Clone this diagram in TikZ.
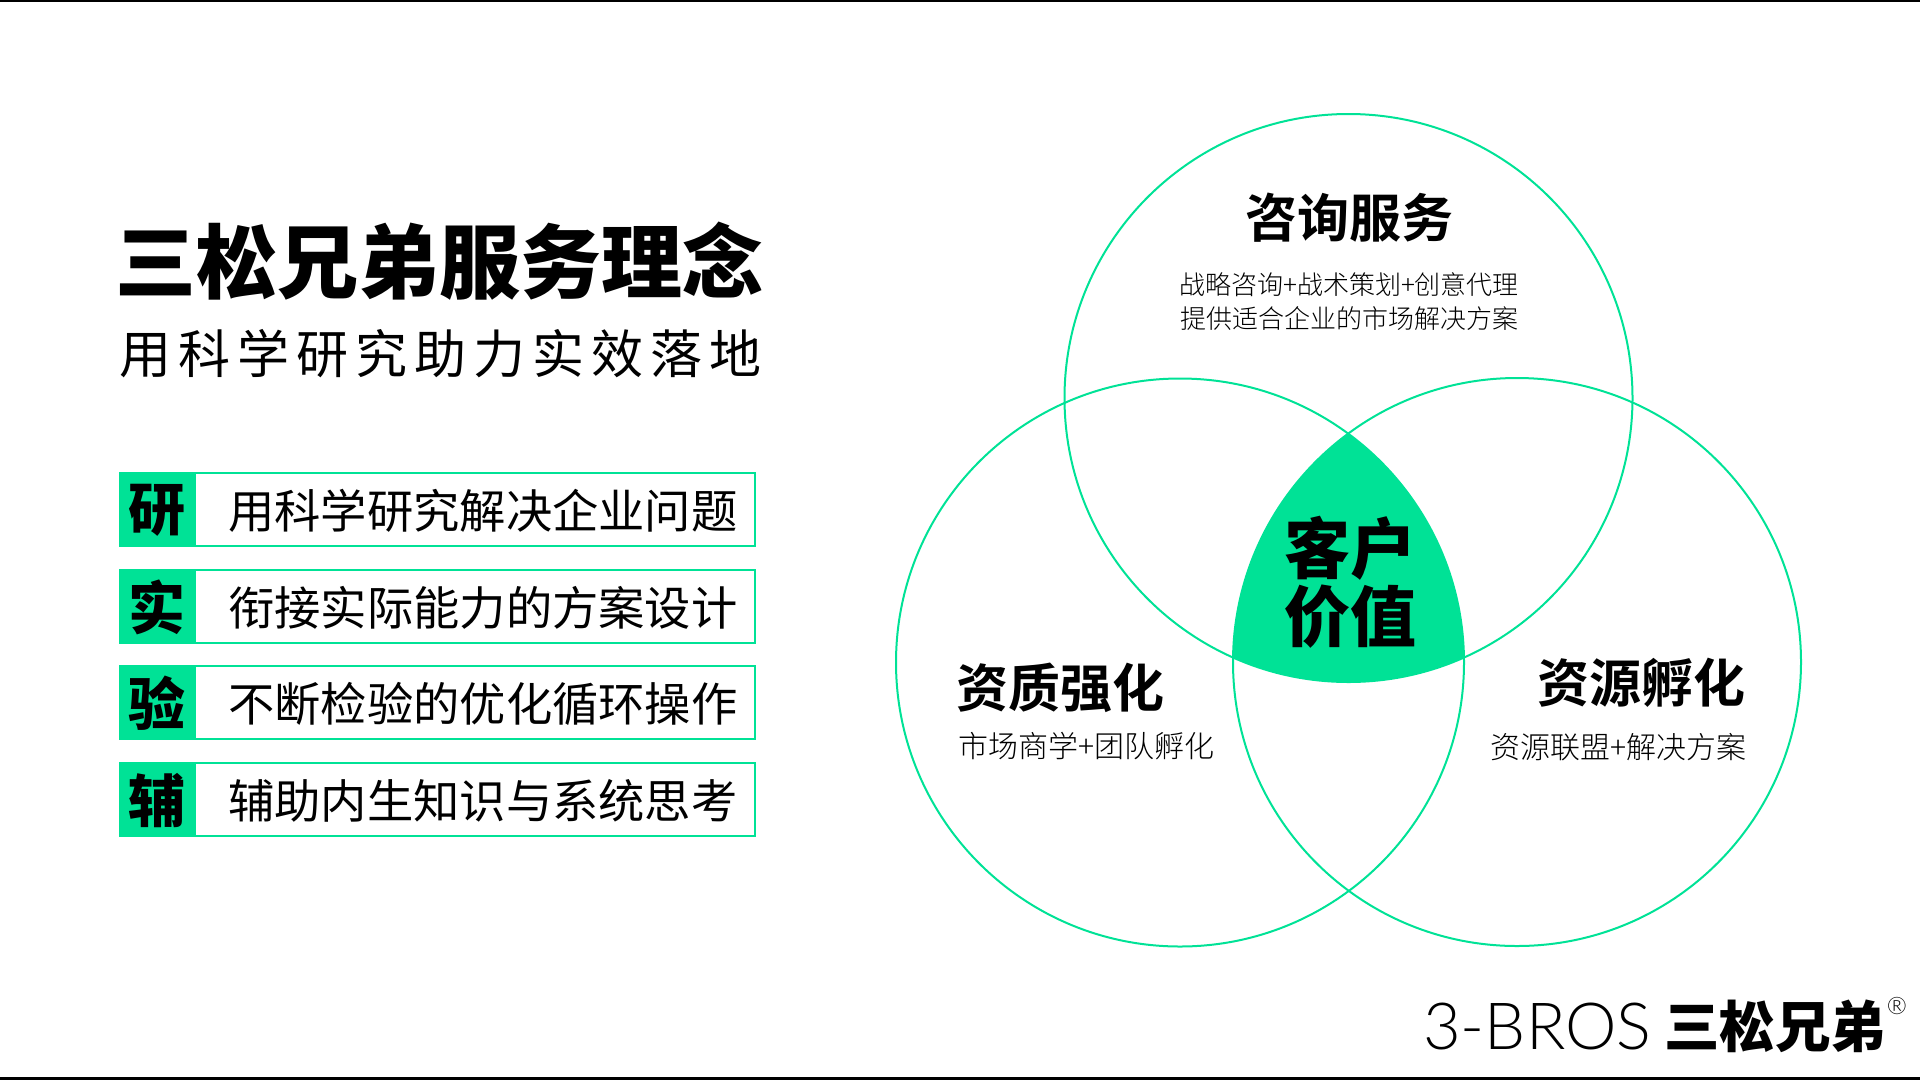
\documentclass[tikz,border=0pt]{standalone}
\usepackage{fontspec}
\setmainfont{Noto Sans CJK SC}
\newfontfamily\cjklight{Noto Sans CJK SC Light}
\newfontfamily\cjkbold{Noto Sans CJK SC Bold}
\newfontfamily\cjkblack{Noto Sans CJK SC Black}
\newfontfamily\logofont{Lato Light}
\definecolor{brosgreen}{HTML}{00E296}
\tikzset{
    heading/.style={inner sep=0, font=\cjkblack\fontsize{81}{81}\selectfont},
    subheading/.style={inner sep=0, font=\fontsize{52}{52}\selectfont\addfontfeature{LetterSpace=13.5}},
    rowkey/.style={inner sep=0, font=\cjkblack\fontsize{57}{57}\selectfont},
    rowtext/.style={inner sep=0, anchor=west, font=\fontsize{46.3}{46.3}\selectfont},
    ringtitle/.style={inner sep=0, font=\cjkbold\fontsize{52}{52}\selectfont},
    ringtext/.style={inner sep=0, align=center, font=\cjklight\fontsize{26}{34}\selectfont},
    ringsmall/.style={inner sep=0, font=\cjklight\fontsize{30}{30}\selectfont},
    ringline/.style={line width=2, brosgreen},
}
\begin{document}
\begin{tikzpicture}[x=1pt,y=-1pt]
\useasboundingbox (0,0) rectangle (1920,1080);
\draw [line width=3, black] (0,0) -- (1920,0);
\draw [line width=3, black] (0,1078.5) -- (1920,1078.5);
% heading
\node[heading] (title) at (439.5,261) {三松兄弟服务理念};
\node[subheading] (subtitle) at (440.5,354) {用科学研究助力实效落地};
% rows
\foreach \n/\y/\k/\t in {1/473/研/用科学研究解决企业问题,
    2/570/实/衔接实际能力的方案设计,
    3/666/验/不断检验的优化循环操作,
    4/763/辅/辅助内生知识与系统思考} {
    \draw [line width=2.5, brosgreen] (120,\y) rectangle (755,\y+73);
    \fill [brosgreen] (119,\y-1) rectangle (196,\y+74);
    \node[rowkey] (key\n) at (157,\y+37.5) {\k};
    \node[rowtext] (row\n) at (228,\y+37.5) {\t};
}
% circles
\coordinate (top) at (1348.5,398);
\coordinate (left) at (1180,662.5);
\coordinate (right) at (1517,662);
\begin{scope}
\clip (top) circle (284);
\clip (left) circle (284);
\fill [brosgreen] (right) circle (284);
\end{scope}
\draw [ringline] (top) circle (284);
\draw [ringline] (left) circle (284);
\draw [ringline] (right) circle (284);
\node[ringtitle] (consult) at (1349,218) {咨询服务};
\node[ringtext] (consulttext) at (1349,302) {战略咨询+战术策划+创意代理\\提供适合企业的市场解决方案};
\node[ringtitle] (quality) at (1060,688) {资质强化};
\node[ringsmall, anchor=west] (qualitytext) at (958,746) {市场商学+团队孵化};
\node[ringtitle] (resource) at (1641,683) {资源孵化};
\node[ringsmall, anchor=east] (resourcetext) at (1747,747) {资源联盟+解决方案};
\node[inner sep=0, align=center, font=\cjkblack\fontsize{66}{68}\selectfont] (value) at (1350,582) {客户\\价值};
% logo
\node[inner sep=0, anchor=west, font=\logofont\fontsize{65}{65}\selectfont] (logoen) at (1423,1026) {3-BROS};
\node[inner sep=0, anchor=west, font=\cjkblack\fontsize{55.5}{55.5}\selectfont] (logocn) at (1664,1026) {三松兄弟};
\node[inner sep=0, font=\logofont\fontsize{24}{24}\selectfont] (logomark) at (1897,1006) {®};
\end{tikzpicture}
\end{document}
